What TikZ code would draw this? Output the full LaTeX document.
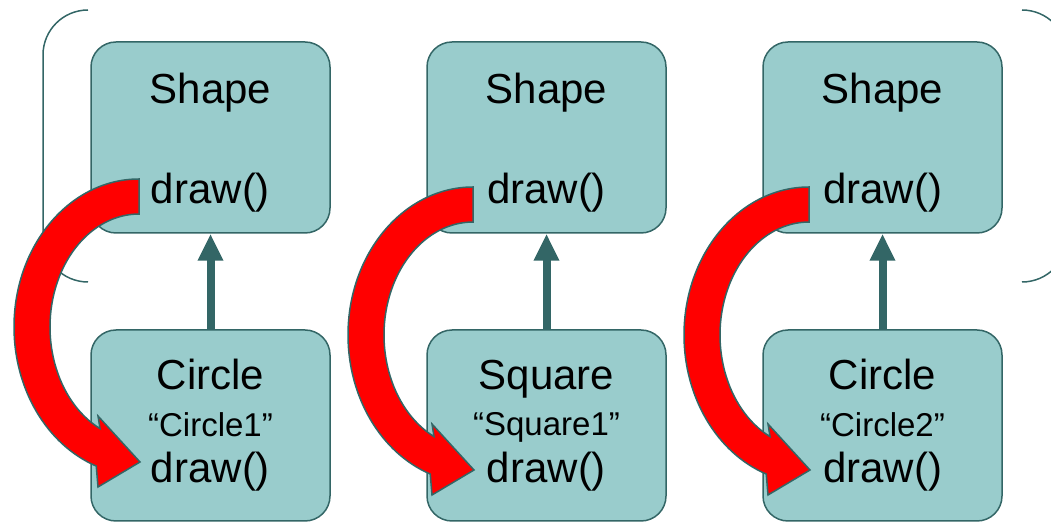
\documentclass[tikz,border=0pt]{standalone}
\usepackage{fontspec}
\setmainfont{Liberation Sans}
\usetikzlibrary{arrows.meta,positioning}
\definecolor{boxfill}{RGB}{153,204,204}
\definecolor{darkteal}{RGB}{51,102,102}
\definecolor{arrowred}{RGB}{255,0,0}

\begin{document}
\begin{tikzpicture}[x=0.5pt, y=0.5pt,
    node distance=47.75pt,
    shapebox/.style={rectangle, draw=darkteal, line width=0.75pt, fill=boxfill, rounded corners=12.5pt, minimum width=119.5pt, minimum height=95.5pt, inner sep=0pt, align=center},
    parent/.style={shapebox, font=\fontsize{21}{25}\selectfont},
    child/.style={shapebox, font=\fontsize{21}{23.25}\selectfont},
    uparrow/.style={-{Triangle[width=12pt,length=13.5pt]}, line width=4pt, darkteal},
    callarrow/.style={fill=arrowred, draw=darkteal, line width=0.75pt, line join=miter},
    bracket/.style={draw=darkteal, line width=0.75pt}
  ]
  \useasboundingbox (0,0) rectangle (1051,-523);
  % bracket round the base classes
  \draw[bracket] (88,-10) arc[start angle=90, end angle=180, radius=45] -- (43,-237) arc[start angle=180, end angle=270, radius=45];
  \draw[bracket] (1022,-10) arc[start angle=90, end angle=0, radius=45] -- (1067,-237) arc[start angle=0, end angle=-90, radius=45];

  \node[parent] (shapeA) at (210.5,-137.5) {\rule{0pt}{20pt}Shape\\[25pt]draw()};
  \node[parent, right=of shapeA] (shapeB) {\rule{0pt}{20pt}Shape\\[25pt]draw()};
  \node[parent, right=of shapeB] (shapeC) {\rule{0pt}{20pt}Shape\\[25pt]draw()};
  \node[child, below=of shapeA] (circleA) {Circle\\{\fontsize{16.5}{23.25}\selectfont “Circle1”}\\draw()};
  \node[child, below=of shapeB] (squareA) {Square\\{\fontsize{16.5}{23.25}\selectfont “Square1”}\\draw()};
  \node[child, below=of shapeC] (circleB) {Circle\\{\fontsize{16.5}{23.25}\selectfont “Circle2”}\\draw()};

  \draw[uparrow] (circleA) -- (shapeA);
  \draw[uparrow] (squareA) -- (shapeB);
  \draw[uparrow] (circleB) -- (shapeC);

  % virtual call goes down to the subclass
  \foreach \dx/\dy in {0/0, 334/-8, 670/-8}{
    \begin{scope}[shift={(\dx,\dy)}]
      \draw[callarrow] (139,-179) arc[start angle=90, end angle=250, x radius=125, y radius=148]
        -- (98,-487) -- (140,-462) -- (98,-416) -- (100,-428.6)
        arc[start angle=244, end angle=90, x radius=89, y radius=113] -- cycle;
    \end{scope}
  }
\end{tikzpicture}
\end{document}
